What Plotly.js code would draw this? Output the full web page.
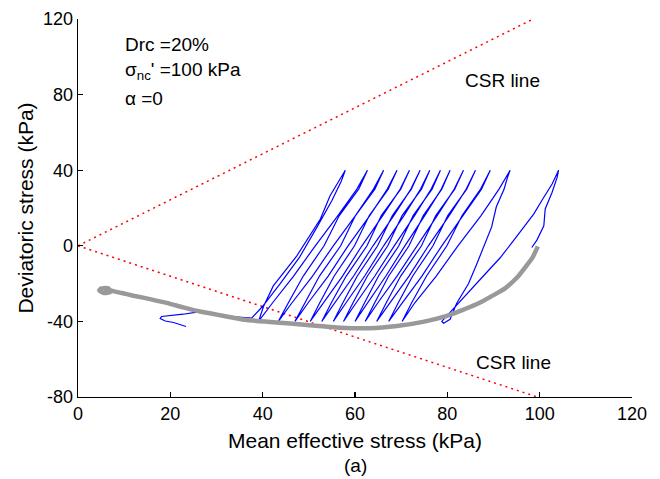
<!DOCTYPE html>
<html>
<head>
<meta charset="utf-8">
<script src="https://cdn.plot.ly/plotly-3.0.1.min.js"></script>
<style>
  html, body { margin: 0; padding: 0; background: #ffffff; }
  #chart { width: 660px; height: 479px; }
</style>
</head>
<body>
<div id="chart"></div>
<script>
// ---- Data ----
// CSR lines (p', q)
const csrUpperP = [0, 98.6];
const csrUpperQ = [0, 120];
const csrLowerP = [0, 99.5];
const csrLowerQ = [0, -80];

// Cyclic effective stress path (blue): mean effective stress p' (kPa)
const cyclicP = [
  98.3, 99.4, 100.9, 101.2, 102.7, 103.8, 104.1,
  102.7, 100.6, 98.7, 95.2, 91.5, 87.6, 84.0, 80.6, 78.8, 79.2, 80.6,
  82.0, 84.6, 86.4, 88.0, 89.6, 90.6, 92.3, 93.0, 93.6,
  91.2, 87.3, 82.3, 77.6, 73.0, 70.2,
  72.3, 75.5, 79.9, 83.2, 87.2, 89.3,
  87.4, 83.4, 78.8, 74.5, 70.3, 67.3,
  69.4, 72.5, 76.9, 80.1, 84.2, 86.1,
  84.1, 80.4, 75.9, 71.7, 67.5, 64.7,
  66.8, 69.9, 74.4, 77.5, 81.6, 83.5,
  81.5, 77.8, 73.4, 69.1, 65.0, 62.2,
  64.3, 67.3, 71.7, 74.8, 78.8, 80.6,
  78.7, 75.1, 70.8, 66.7, 62.7, 60.0,
  62.1, 65.1, 69.5, 72.6, 76.7, 78.5,
  76.5, 72.9, 68.5, 64.3, 60.3, 57.5,
  59.6, 62.7, 67.1, 70.2, 74.4, 76.2,
  74.2, 70.6, 66.2, 62.1, 58.1, 55.3,
  57.4, 60.5, 64.9, 68.1, 72.2, 74.1,
  72.1, 68.4, 63.9, 59.7, 55.6, 52.8,
  54.9, 58.1, 62.6, 65.7, 69.9, 71.8,
  69.8, 66.0, 61.5, 57.3, 53.1, 50.3,
  52.4, 55.5, 59.9, 63.1, 67.2, 69.1,
  67.0, 63.2, 58.5, 54.2, 49.9, 47.0,
  49.2, 52.3, 56.9, 60.1, 64.3, 66.2,
  64.0, 60.1, 55.3, 50.8, 46.4, 43.4,
  45.6, 48.8, 53.3, 56.6, 60.8, 62.7,
  60.4, 56.3, 51.4, 46.7, 42.2, 39.1,
  40.2, 42.3, 47.4, 52.5, 54.6, 57.9,
  57.0, 55.0, 51.8, 48.0, 43.8, 40.0, 37.6, 34.0, 30.0, 26.1,
  22.8, 19.9, 18.1, 17.8, 18.9, 20.7, 23.4
];
// Cyclic effective stress path (blue): deviatoric stress q (kPa)
const cyclicQ = [
  -0.9, 3.0, 10.6, 19.5, 28.3, 36.3, 40.0,
  32.7, 24.5, 16.8, 5.5, -6.2, -16.5, -26.0, -35.3, -40.0, -41.0, -38.9,
  -30.5, -20.0, -9.5, 0.5, 10.0, 20.5, 30.0, 36.0, 40.0,
  30, 16, 0, -16, -30, -40,
  -30, -16, 0, 16, 30, 40,
  30, 16, 0, -16, -30, -40,
  -30, -16, 0, 16, 30, 40,
  30, 16, 0, -16, -30, -40,
  -30, -16, 0, 16, 30, 40,
  30, 16, 0, -16, -30, -40,
  -30, -16, 0, 16, 30, 40,
  30, 16, 0, -16, -30, -40,
  -30, -16, 0, 16, 30, 40,
  30, 16, 0, -16, -30, -40,
  -30, -16, 0, 16, 30, 40,
  30, 16, 0, -16, -30, -40,
  -30, -16, 0, 16, 30, 40,
  30, 16, 0, -16, -30, -40,
  -30, -16, 0, 16, 30, 40,
  30, 16, 0, -16, -30, -40,
  -30, -16, 0, 16, 30, 40,
  30, 16, 0, -16, -30, -40,
  -30, -16, 0, 16, 30, 40,
  30, 16, 0, -16, -30, -40,
  -30, -16, 0, 16, 30, 40,
  30, 16, 0, -16, -30, -40,
  -32, -21.2, -5.3, 14.2, 26.5, 40,
  34, 24, 10, -6, -20, -32, -38.3, -37.6, -36.3, -35.0,
  -36.2, -37.1, -37.4, -38.5, -39.8, -40.6, -42.7
];

// Monotonic / envelope path (grey)
const envelopeP = [5.2, 4.6, 5.6, 7.0, 6.6, 5.4, 7.6, 9.5, 12.0, 15.6, 19.2, 22.8, 26.4, 30.1, 33.7, 36.6,
  42.3, 49.6, 56.8, 63.0, 69.1, 75.0, 79.9, 83.5, 87.1, 90.0, 92.5, 95.1, 97.0, 98.5, 99.6];
const envelopeQ = [-22.2, -23.6, -25.0, -24.4, -22.6, -22.4, -24.0, -25.0, -26.4, -28.2, -30.2, -32.6, -34.8, -36.4, -38.1, -39.3,
  -40.4, -41.9, -43.3, -43.6, -42.4, -40.1, -37.1, -33.8, -30.0, -26.1, -22.5, -16.8, -11.0, -6.0, -0.3];

// Axis ticks
const xTickVals = [0, 20, 40, 60, 80, 100, 120];
const xTickText = ['0', '20', '40', '60', '80', '100', '120'];
const yTickVals = [-80, -40, 0, 40, 80, 120];
const yTickText = ['-80', '-40', '0', '40', '80', '120'];

// ---- Plot ----
const FONT = 'Liberation Sans, Arial, Helvetica, sans-serif';

const traces = [
  {
    x: csrUpperP, y: csrUpperQ, mode: 'lines', type: 'scatter',
    line: { color: '#ff0000', width: 1.5, dash: '2px,4px' }, hoverinfo: 'skip'
  },
  {
    x: csrLowerP, y: csrLowerQ, mode: 'lines', type: 'scatter',
    line: { color: '#ff0000', width: 1.5, dash: '2px,4px' }, hoverinfo: 'skip'
  },
  {
    x: cyclicP, y: cyclicQ, mode: 'lines', type: 'scatter',
    line: { color: '#0000ff', width: 1.2 }
  },
  {
    x: envelopeP, y: envelopeQ, mode: 'lines', type: 'scatter',
    line: { color: '#999999', width: 4.5, shape: 'spline', smoothing: 0.6 }
  }
];

const axisCommon = {
  showgrid: false, zeroline: false, showline: true,
  linecolor: '#000', linewidth: 1.3, mirror: false,
  ticks: 'inside', ticklen: 5, tickwidth: 1.2, tickcolor: '#000',
  tickfont: { family: FONT, size: 18, color: '#000' },
  tickmode: 'array'
};

const layout = {
  width: 660, height: 479,
  margin: { l: 78, r: 28, t: 19, b: 82 },
  paper_bgcolor: '#fff', plot_bgcolor: '#fff',
  showlegend: false,
  font: { family: FONT, color: '#000' },
  xaxis: Object.assign({}, axisCommon, {
    range: [0, 120], tickvals: xTickVals, ticktext: xTickText,
    title: { text: 'Mean effective stress (kPa)', font: { family: FONT, size: 21, color: '#000' }, standoff: 10 }
  }),
  yaxis: Object.assign({}, axisCommon, {
    range: [-80, 120], tickvals: yTickVals, ticktext: yTickText,
    title: { text: 'Deviatoric stress (kPa)', font: { family: FONT, size: 21, color: '#000' }, standoff: 3 }
  }),
  annotations: [
    { x: 9.8, y: 106.6, xref: 'x', yref: 'y', xanchor: 'left', yanchor: 'middle', showarrow: false,
      text: 'Drc =20%', font: { family: FONT, size: 19, color: '#000' } },
    { x: 9.8, y: 92.3, xref: 'x', yref: 'y', xanchor: 'left', yanchor: 'middle', showarrow: false,
      text: 'σ<sub>nc</sub>\' =100 kPa', font: { family: FONT, size: 19, color: '#000' } },
    { x: 9.8, y: 77.8, xref: 'x', yref: 'y', xanchor: 'left', yanchor: 'middle', showarrow: false,
      text: 'α =0', font: { family: FONT, size: 19, color: '#000' } },
    { x: 83.5, y: 87.5, xref: 'x', yref: 'y', xanchor: 'left', yanchor: 'middle', showarrow: false,
      text: 'CSR line', font: { family: FONT, size: 19, color: '#000' } },
    { x: 85.7, y: -61.9, xref: 'x', yref: 'y', xanchor: 'left', yanchor: 'middle', showarrow: false,
      text: 'CSR line', font: { family: FONT, size: 19, color: '#000' } },
    { x: 0.5, y: -0.182, xref: 'paper', yref: 'paper', xanchor: 'center', yanchor: 'middle', showarrow: false,
      text: '(a)', font: { family: FONT, size: 19, color: '#000' } }
  ]
};

Plotly.newPlot('chart', traces, layout, { staticPlot: true, displayModeBar: false });
</script>
</body>
</html>
